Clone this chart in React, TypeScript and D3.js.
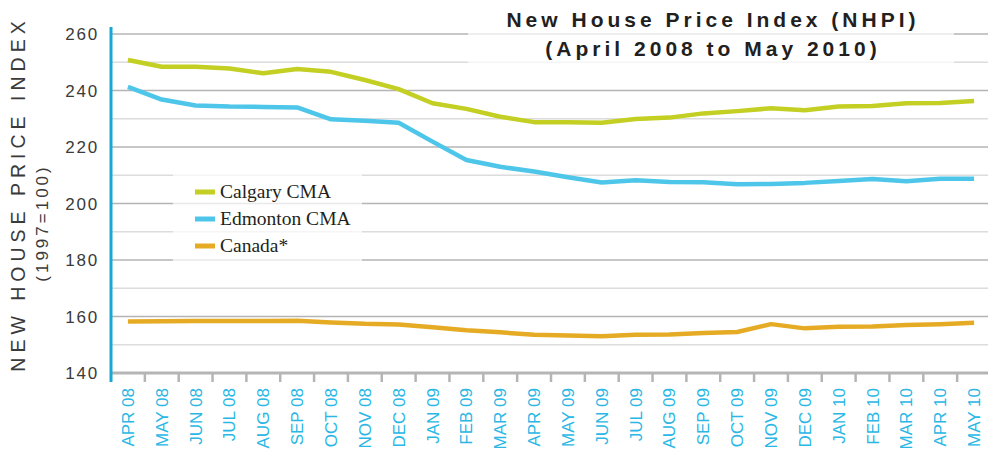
import React from "react";
import * as d3 from "d3";

const months = [
  "APR 08", "MAY 08", "JUN 08", "JUL 08", "AUG 08", "SEP 08", "OCT 08", "NOV 08", "DEC 08",
  "JAN 09", "FEB 09", "MAR 09", "APR 09", "MAY 09", "JUN 09", "JUL 09", "AUG 09", "SEP 09",
  "OCT 09", "NOV 09", "DEC 09", "JAN 10", "FEB 10", "MAR 10", "APR 10", "MAY 10",
];

const calgary = [
  250.8, 248.4, 248.4, 247.8, 246.1, 247.6, 246.6, 243.7, 240.5, 235.5, 233.5, 230.7, 228.8,
  228.8, 228.6, 229.9, 230.4, 231.9, 232.7, 233.7, 233.0, 234.3, 234.5, 235.5, 235.6, 236.3,
];

const edmonton = [
  241.3, 236.8, 234.7, 234.3, 234.2, 234.0, 229.8, 229.3, 228.6, 221.9, 215.4, 213.0, 211.3,
  209.3, 207.4, 208.2, 207.6, 207.5, 206.8, 206.9, 207.3, 208.0, 208.7, 207.9, 208.8, 208.8,
];

const canada = [
  158.2, 158.3, 158.4, 158.4, 158.4, 158.5, 157.9, 157.4, 157.2, 156.2, 155.1, 154.4, 153.5,
  153.3, 153.0, 153.5, 153.6, 154.2, 154.5, 157.3, 155.8, 156.4, 156.5, 157.0, 157.3, 157.8,
];

const yTicks = [140, 160, 180, 200, 220, 240, 260];
const yGrid = [140, 150, 160, 170, 180, 190, 200, 210, 220, 230, 240, 250, 260];

const seriesNames = ["Calgary CMA", "Edmonton CMA", "Canada*"];
const seriesColors = ["#c3cf22", "#4ec6ea", "#e6ab24"];
const seriesData = [calgary, edmonton, canada];

const titleLines = ["New House Price Index (NHPI)", "(April 2008 to May 2010)"];
const yTitle = "NEW HOUSE PRICE INDEX";
const ySubTitle = "(1997=100)";

export default function App() {
  const W = 988;
  const H = 454;
  const left = 111;
  const right = 988;
  const x = d3.scaleBand<string>().domain(months).range([left, 991]).padding(0);
  const bw = x.bandwidth();
  const y = d3.scaleLinear().domain([140, 260]).range([373, 34]);
  const cx = (m: string) => (x(m) as number) + bw / 2;

  const line = d3
    .line<number>()
    .x((_, i) => cx(months[i]))
    .y((d) => y(d));

  const sans = "'Liberation Sans', Arial, Helvetica, sans-serif";

  return (
    <svg
      width={W}
      height={H}
      style={{ position: "absolute", left: 0, top: 0, background: "#fff" }}
    >
      {/* gridlines */}
      {yGrid.map((v) => (
        <line
          key={v}
          x1={left}
          x2={right}
          y1={y(v)}
          y2={y(v)}
          stroke={v % 20 === 0 ? "#b4b4b4" : "#dcdcdc"}
          strokeWidth={1.6}
        />
      ))}

      {/* semi-transparent boxes behind title and legend */}
      <rect x={468} y={4} width={486} height={62} fill="#fff" fillOpacity={0.7} />
      <rect x={173} y={170} width={189} height={94} fill="#fff" fillOpacity={0.7} />

      {/* title */}
      {titleLines.map((t, i) => (
        <text
          key={t}
          x={713}
          y={27 + i * 29}
          textAnchor="middle"
          fontFamily={sans}
          fontWeight="bold"
          fontSize={21}
          letterSpacing={4}
          fill="#231f20"
        >
          {t}
        </text>
      ))}

      {/* series lines */}
      {seriesData.map((s, i) => (
        <path
          key={seriesNames[i]}
          d={line(s) || ""}
          fill="none"
          stroke={seriesColors[i]}
          strokeWidth={4.5}
          strokeLinejoin="round"
        />
      ))}

      {/* legend */}
      {seriesNames.map((n, i) => (
        <g key={n}>
          <line
            x1={195}
            x2={215}
            y1={192 + i * 27}
            y2={192 + i * 27}
            stroke={seriesColors[i]}
            strokeWidth={5}
          />
          <text
            x={220}
            y={198 + i * 27}
            fontFamily="'Liberation Serif', 'DejaVu Serif', serif"
            fontSize={19.5}
            fill="#231f20"
          >
            {n}
          </text>
        </g>
      ))}

      {/* x axis */}
      <line x1={left} x2={right} y1={373} y2={373} stroke="#b5b5b5" strokeWidth={3} />
      {months.slice(1).map((m) => (
        <line
          key={"t" + m}
          x1={x(m) as number}
          x2={x(m) as number}
          y1={373}
          y2={382}
          stroke="#b5b5b5"
          strokeWidth={2.5}
        />
      ))}
      {months.map((m) => (
        <text
          key={"l" + m}
          transform={`translate(${cx(m) + 6},388) rotate(-90)`}
          textAnchor="end"
          fontFamily={sans}
          fontSize={17}
          fill="#2ab7e5"
        >
          {m}
        </text>
      ))}

      {/* y axis */}
      <line x1={left} x2={left} y1={27} y2={382} stroke="#17a9d6" strokeWidth={3} />
      {yTicks.map((v) => (
        <text
          key={"y" + v}
          x={99}
          y={y(v) + 6}
          textAnchor="end"
          fontFamily={sans}
          fontSize={17}
          letterSpacing={1.8}
          fill="#3a3a3a"
        >
          {v}
        </text>
      ))}

      <text
        transform={`translate(25,194) rotate(-90)`}
        textAnchor="middle"
        fontFamily={sans}
        fontSize={19.5}
        letterSpacing={5}
        fill="#3a3a3a"
      >
        {yTitle}
      </text>
      <text
        transform={`translate(48,223) rotate(-90)`}
        textAnchor="middle"
        fontFamily={sans}
        fontSize={17}
        letterSpacing={3}
        fill="#3a3a3a"
      >
        {ySubTitle}
      </text>
    </svg>
  );
}
